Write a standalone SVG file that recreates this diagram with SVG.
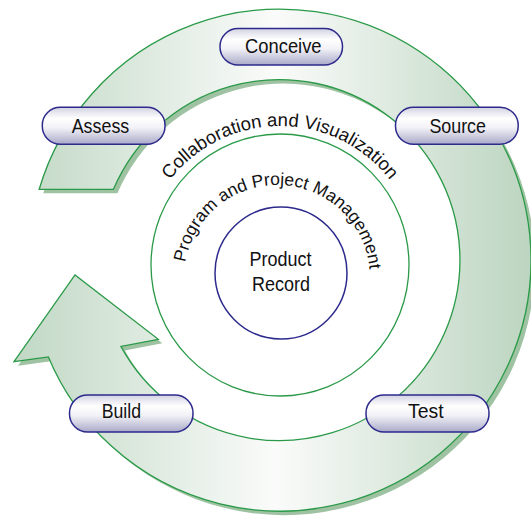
<svg xmlns="http://www.w3.org/2000/svg" width="531" height="517" viewBox="0 0 531 517">
<style>
.pill{stroke:#2d2a8c;stroke-width:1.5;fill:url(#pillG)}
.lbl{font-family:"Liberation Sans",Arial,sans-serif;font-size:21px;fill:#111;text-anchor:middle}
.arc{font-family:"Liberation Sans",Arial,sans-serif;font-size:18.5px;fill:#111}
.ring{fill:none;stroke:#2a9a48;stroke-width:1.3}
</style>
<defs>
<linearGradient id="ringG" gradientUnits="userSpaceOnUse" x1="20" y1="0" x2="531" y2="0">
<stop offset="0" stop-color="#c2d9c6"/>
<stop offset="0.5" stop-color="#fafbfa"/>
<stop offset="1" stop-color="#bcd5c0"/>
</linearGradient>
<linearGradient id="pillG" x1="0" y1="0" x2="0" y2="1">
<stop offset="0" stop-color="#d2d2e2"/>
<stop offset="0.3" stop-color="#ffffff"/>
<stop offset="0.55" stop-color="#f2f2f7"/>
<stop offset="1" stop-color="#a9a9c9"/>
</linearGradient>
<path id="arrowShape" d="M39.2,189.3 A251,251 0 1 1 48.4,356.9 L14,361.7 L75,275 L158.3,339.3 L120.9,346.4 A180.5,180.5 0 1 0 113.4,189.3 Z"/>
<path id="arcCollab" d="M141,265 A139,139 0 0 1 419,265"/>
<path id="arcProg" d="M184,278 A93,93 0 0 1 370,278"/>
</defs>
<rect width="531" height="517" fill="#ffffff"/>
<g id="connectors">
<use href="#arrowShape" transform="translate(4,4)" fill="#9fc3a2"/>
<use href="#arrowShape" fill="url(#ringG)" stroke="#2a9a48" stroke-width="1.3"/>
</g>
<g id="layer-collab">
<ellipse class="ring" cx="280" cy="265" rx="129" ry="131"/>
<text class="arc"><textPath href="#arcCollab" startOffset="50%" text-anchor="middle">Collaboration and Visualization</textPath></text>
</g>
<g id="layer-program">
<text class="arc" style="font-size:17.5px"><textPath href="#arcProg" startOffset="51.2%" text-anchor="middle">Program and Project Management</textPath></text>
</g>
<g id="product-record">
<circle cx="281" cy="273" r="66" fill="none" stroke="#2d2a8c" stroke-width="1.5"/>
<text class="lbl" x="280.5" y="266" textLength="62" lengthAdjust="spacingAndGlyphs">Product</text>
<text class="lbl" x="281" y="290.5" textLength="58" lengthAdjust="spacingAndGlyphs">Record</text>
</g>
<g id="node-conceive">
<rect class="pill" x="220" y="28.5" width="122.5" height="36.5" rx="18"/>
<text class="lbl" x="283.3" y="53.3" textLength="76.5" lengthAdjust="spacingAndGlyphs">Conceive</text>
</g>
<g id="node-assess">
<rect class="pill" x="42.3" y="107.3" width="122.7" height="37" rx="18"/>
<text class="lbl" x="100.5" y="133.3" textLength="57.6" lengthAdjust="spacingAndGlyphs">Assess</text>
</g>
<g id="node-source">
<rect class="pill" x="395.5" y="107.3" width="122.7" height="37" rx="18"/>
<text class="lbl" x="457.7" y="133.3" textLength="56.6" lengthAdjust="spacingAndGlyphs">Source</text>
</g>
<g id="node-build">
<rect class="pill" x="69.5" y="395" width="123.5" height="37" rx="18"/>
<text class="lbl" x="121.4" y="418" textLength="39.3" lengthAdjust="spacingAndGlyphs">Build</text>
</g>
<g id="node-test">
<rect class="pill" x="366" y="395" width="123" height="37" rx="18"/>
<text class="lbl" x="425.8" y="418" textLength="35.6" lengthAdjust="spacingAndGlyphs">Test</text>
</g>
</svg>
